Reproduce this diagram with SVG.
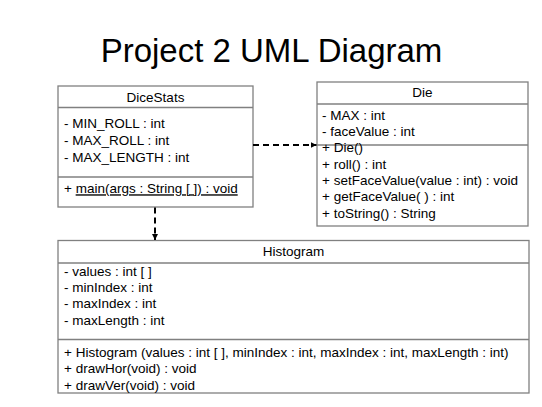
<svg xmlns="http://www.w3.org/2000/svg" width="542" height="407" viewBox="0 0 542 407">
<defs>
<style>
.box{fill:#fff;stroke:#808080;stroke-width:1.3}
.sep{stroke:#808080;stroke-width:1.3}
text{font-family:"Liberation Sans",Arial,sans-serif;font-size:13.5px;fill:#000}
.c{text-anchor:middle}
.title{font-size:33px;text-anchor:middle}
.dep{fill:none;stroke:#000;stroke-width:2;stroke-dasharray:6,4}
</style>
<marker id="ah" viewBox="0 0 6 6" refX="6" refY="3" markerWidth="6" markerHeight="6" markerUnits="userSpaceOnUse" orient="auto">
<path d="M0,0 L6,3 L0,6 Z" fill="#000"/>
</marker>
</defs>
<rect width="542" height="407" fill="#fff"/>
<text class="title" x="271.5" y="62">Project 2 UML Diagram</text>

<g id="DiceStats">
<rect class="box" x="58" y="86" width="195" height="121"/>
<line class="sep" x1="58" y1="107.5" x2="253" y2="107.5"/>
<line class="sep" x1="58" y1="177" x2="253" y2="177"/>
<text class="c" x="155.5" y="101.5">DiceStats</text>
<text x="64" y="128">- MIN_ROLL : int</text>
<text x="64" y="145">- MAX_ROLL : int</text>
<text x="64" y="161.7">- MAX_LENGTH : int</text>
<text x="64" y="193.3">+ <tspan text-decoration="underline">main(args : String [ ]) : void</tspan></text>
</g>

<g id="Die">
<rect class="box" x="317" y="82" width="211" height="144"/>
<line class="sep" x1="317" y1="104" x2="528" y2="104"/>
<line class="sep" x1="317" y1="145" x2="528" y2="145"/>
<text class="c" x="422.5" y="97">Die</text>
<text x="322" y="120">- MAX : int</text>
<text x="322" y="136">- faceValue : int</text>
<text x="322" y="152.3">+ Die()</text>
<text x="322" y="168.6">+ roll() : int</text>
<text x="322" y="184.9">+ setFaceValue(value : int) : void</text>
<text x="322" y="201.2">+ getFaceValue( ) : int</text>
<text x="322" y="217.5">+ toString() : String</text>
</g>

<g id="Histogram">
<rect class="box" x="58" y="240.5" width="471" height="152.5"/>
<line class="sep" x1="58" y1="263" x2="529" y2="263"/>
<line class="sep" x1="58" y1="339.5" x2="529" y2="339.5"/>
<text class="c" x="293.5" y="255.5">Histogram</text>
<text x="64" y="276">- values : int [ ]</text>
<text x="64" y="292.2">- minIndex : int</text>
<text x="64" y="308.4">- maxIndex : int</text>
<text x="64" y="324.6">- maxLength : int</text>
<text x="64" y="357">+ Histogram (values : int [ ], minIndex : int, maxIndex : int, maxLength : int)</text>
<text x="64" y="373.3">+ drawHor(void) : void</text>
<text x="64" y="389.6">+ drawVer(void) : void</text>
</g>

<g id="connectors">
<path class="dep" d="M253,145 H316.5" marker-end="url(#ah)"/>
<path class="dep" d="M155,207.5 V240" marker-end="url(#ah)"/>
</g>
</svg>
